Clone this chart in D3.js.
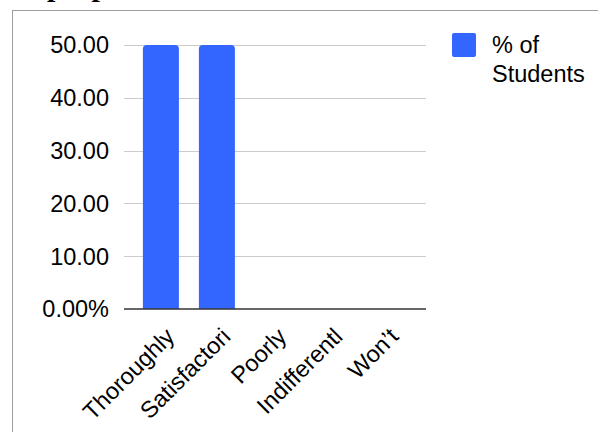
<!DOCTYPE html>
<html>
<head>
<meta charset="utf-8">
<script src="https://cdn.jsdelivr.net/npm/d3@7"></script>
<style>
  body { margin: 0; background: #fff; }
  svg { display: block; }
  text { font-family: "Liberation Sans", Arial, sans-serif; fill: #000; }
</style>
</head>
<body>
<div id="chart"></div>
<script>
// data
var categories = ["Thoroughly", "Satisfactori", "Poorly", "Indifferentl", "Won\u2019t"];
var percentStudents = [50, 50, 0, 0, 0];
var yTicks = [0, 10, 20, 30, 40, 50];
var seriesName = ["% of", "Students"];
var titleText = "proper";

var width = 598, height = 432;
var fontSize = 23.5;
var barColor = "#3366ff";

var svg = d3.select("#chart").append("svg")
  .attr("width", width)
  .attr("height", height);

// cut off title above the frame
svg.append("text")
  .attr("x", 47)
  .attr("y", -4)
  .style("font-family", "'Liberation Serif', 'Times New Roman', serif")
  .style("font-weight", "bold")
  .style("font-size", "30px")
  .text(titleText);

// frame
svg.append("rect")
  .attr("x", 12.5)
  .attr("y", 10.5)
  .attr("width", 700)
  .attr("height", 600)
  .attr("fill", "none")
  .attr("stroke", "#9e9e9e")
  .attr("stroke-width", 1);

var plotLeft = 124, plotRight = 426;

var y = d3.scaleLinear()
  .domain([0, 50])
  .range([309, 45]);

var x = d3.scaleBand()
  .domain(categories)
  .range([plotLeft, plotRight])
  .paddingInner(0.357)
  .paddingOuter(0.375)
  .align(0.45);

// gridlines
svg.append("g")
  .selectAll("line")
  .data(yTicks.filter(d => d > 0))
  .enter()
  .append("line")
  .attr("x1", plotLeft)
  .attr("x2", plotRight)
  .attr("y1", d => Math.round(y(d)) + 0.5)
  .attr("y2", d => Math.round(y(d)) + 0.5)
  .attr("stroke", "#cccccc")
  .attr("stroke-width", 1);

// y tick labels
svg.append("g")
  .selectAll("text")
  .data(yTicks)
  .enter()
  .append("text")
  .attr("x", 109)
  .attr("y", d => y(d) + fontSize * 0.36)
  .attr("text-anchor", "end")
  .style("font-size", fontSize + "px")
  .text(d => d === 0 ? d3.format(".2f")(d) + "%" : d3.format(".2f")(d));

// bars with rounded tops
var r = 4;
function barPath(d, i) {
  var x0 = x(categories[i]), w = x.bandwidth();
  var yt = y(d), yb = y(0);
  if (yb - yt < r) return "";
  return "M" + x0 + "," + yb +
    "V" + (yt + r) +
    "Q" + x0 + "," + yt + " " + (x0 + r) + "," + yt +
    "H" + (x0 + w - r) +
    "Q" + (x0 + w) + "," + yt + " " + (x0 + w) + "," + (yt + r) +
    "V" + yb + "Z";
}

svg.append("g")
  .selectAll("path")
  .data(percentStudents)
  .enter()
  .append("path")
  .attr("d", barPath)
  .attr("fill", barColor);

// baseline
svg.append("line")
  .attr("x1", plotLeft)
  .attr("x2", plotRight)
  .attr("y1", y(0))
  .attr("y2", y(0))
  .attr("stroke", "#333333")
  .attr("stroke-width", 1.5);

// x labels, rotated
svg.append("g")
  .selectAll("text")
  .data(categories)
  .enter()
  .append("text")
  .attr("text-anchor", "end")
  .attr("transform", d => {
    var cx = x(d) + x.bandwidth() / 2 + 15;
    return "translate(" + cx + "," + (y(0) + 29) + ") rotate(-45)";
  })
  .style("font-size", fontSize + "px")
  .text(d => d);

// legend
var legend = svg.append("g").attr("transform", "translate(452,33)");
legend.append("rect")
  .attr("width", 24)
  .attr("height", 24)
  .attr("rx", 2)
  .attr("fill", barColor);
legend.selectAll("text")
  .data(seriesName)
  .enter()
  .append("text")
  .attr("x", 40)
  .attr("y", (d, i) => 20 + i * 29)
  .style("font-size", fontSize + "px")
  .text(d => d);
</script>
</body>
</html>
